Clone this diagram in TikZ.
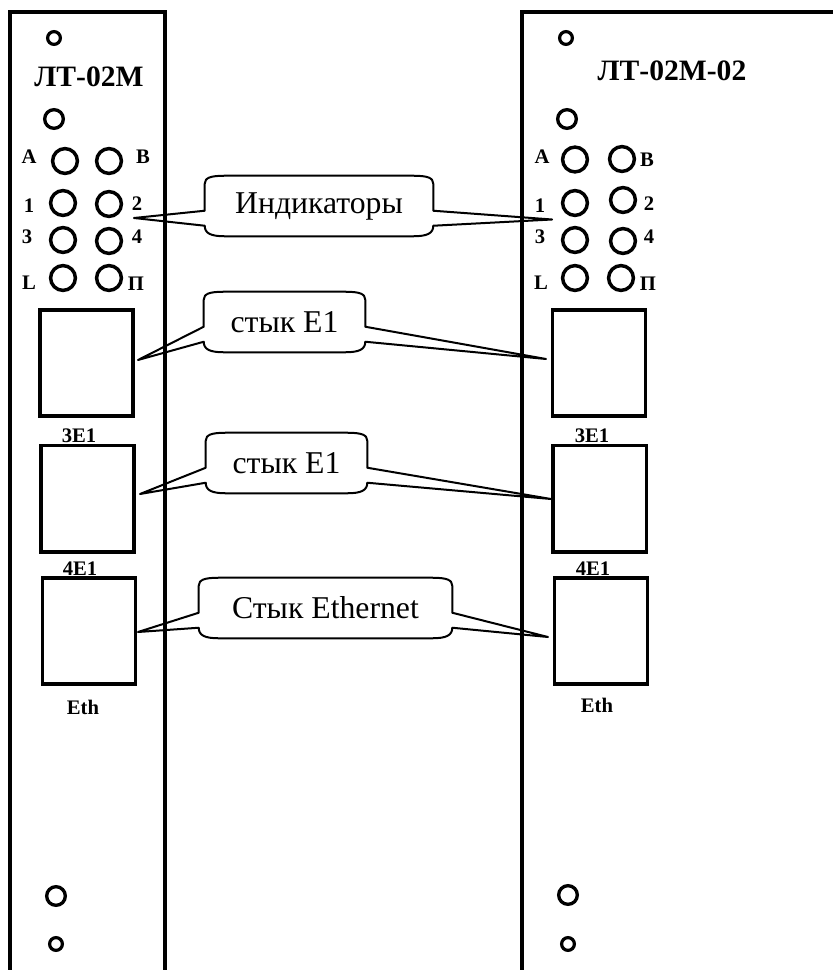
\documentclass[tikz,border=0pt]{standalone}
\usepackage{fontspec}
\setmainfont{Liberation Serif}
\usetikzlibrary{calc}

% callout outline round an empty node: name, left tip, right tip
\newcommand{\calloutline}[3]{
  \draw[callout]
    ($(#1.north west)+(0,8)$) .. controls ($(#1.north west)+(0,2)$) and ($(#1.north west)+(6,0)$) .. ($(#1.north west)+(20,0)$)
    -- ($(#1.north east)+(-20,0)$) .. controls ($(#1.north east)+(-6,0)$) and ($(#1.north east)+(0,2)$) .. ($(#1.north east)+(0,8)$)
    -- ($(#1.north east)+(0,35)$) -- (#3) -- ($(#1.north east)+(0,50)$)
    .. controls ($(#1.south east)+(0,-3)$) and ($(#1.south east)+(-6,0)$) .. ($(#1.south east)+(-20,0)$)
    -- ($(#1.south west)+(20,0)$) .. controls ($(#1.south west)+(6,0)$) and ($(#1.south west)+(0,-3)$) .. ($(#1.north west)+(0,50)$)
    -- (#2) -- ($(#1.north west)+(0,35)$) -- cycle;
}

\begin{document}
\begin{tikzpicture}[
  x=0.75pt, y=-0.75pt,
  font=\fontsize{15.5pt}{17pt}\selectfont\bfseries,
  panel/.style={line width=3pt, line cap=butt, line join=miter},
  callout/.style={line width=1.5pt, line join=round},
  calloutbody/.style={inner sep=0pt, minimum height=45pt, font=\fontsize{23.8pt}{26pt}\selectfont},
  lamp/.style={circle, draw, line width=2.6pt, inner sep=0pt, minimum size=18.6pt},
  hole/.style={circle, draw, line width=2.5pt, inner sep=0pt, minimum size=14pt},
  screw/.style={circle, draw, line width=2.4pt, inner sep=0pt, minimum size=9.6pt},
  socket/.style={draw, line width=2.7pt, inner sep=0pt, minimum width=70pt, minimum height=79.8pt},
  title/.style={font=\fontsize{22.2pt}{25pt}\selectfont\bfseries}
]
\useasboundingbox (0,0) rectangle (833,970);

% panels
\coordinate (leftbl) at (9.5,970);
\coordinate (lefttl) at (9.5,12);
\coordinate (lefttr) at (165,12);
\coordinate (leftbr) at (165,970);
\coordinate (rightbl) at (521.7,970);
\coordinate (righttl) at (521.7,12);
\coordinate (righttr) at (833,12);
\draw[panel] (leftbl) -- (lefttl) -- (lefttr) -- (leftbr);
\draw[panel] (rightbl) -- (righttl) -- (righttr);

\node[title] (ltm) at (89,77) {ЛТ-02М};
\node[title] (ltmz) at (672,71) {ЛТ-02М-02};

% left panel
\node[screw] (ls1) at (54,38) {};
\node[hole] (ls2) at (54,119) {};
\node[lamp] (la) at (65,161) {};
\node[lamp] (lb) at (109,161) {};
\node[lamp] (l1) at (63,203) {};
\node[lamp] (l2) at (109,204) {};
\node[lamp] (l3) at (63,240) {};
\node[lamp] (l4) at (109,241) {};
\node[lamp] (ll) at (63,278) {};
\node[lamp] (lp) at (109,278) {};
\node[hole] (ls3) at (56,896) {};
\node[screw] (ls4) at (56,944) {};

\node (lta) at (29,157) {A};
\node (ltb) at (143,157) {B};
\node (lt1) at (29,206) {1};
\node (lt2) at (137,204) {2};
\node (lt3) at (27,237) {3};
\node (lt4) at (137,237) {4};
\node (ltl) at (29,283) {L};
\node (ltp) at (136,284) {П};

\node (lte) at (79,436) {3E1};
\node (ltf) at (80,569) {4E1};
\node (lth) at (83,707) {Eth};
\node[socket] (lsa) at (86.5,363) {};
\node[socket] (lsb) at (87.5,498.5) {};
\node[socket] (lsc) at (89,631) {};

% right panel
\node[screw] (rs1) at (566,38) {};
\node[hole] (rs2) at (567,119) {};
\node[lamp] (ra) at (575,159.5) {};
\node[lamp] (rb) at (622,159) {};
\node[lamp] (r1) at (575,203) {};
\node[lamp] (r2) at (623,200) {};
\node[lamp] (r3) at (575,240) {};
\node[lamp] (r4) at (623,241) {};
\node[lamp] (rl) at (575,278) {};
\node[lamp] (rp) at (621,278) {};
\node[hole] (rs3) at (568,895) {};
\node[screw] (rs4) at (568,944) {};

\node (rta) at (542,157) {A};
\node (rtb) at (647,160) {B};
\node (rt1) at (540,206) {1};
\node (rt2) at (649,204) {2};
\node (rt3) at (540,237) {3};
\node (rt4) at (649,237) {4};
\node (rtl) at (541,283) {L};
\node (rtp) at (648,284) {П};

\node (rte) at (592,436) {3E1};
\node (rtf) at (593,569) {4E1};
\node (rth) at (597,705) {Eth};
\node[socket] (rsa) at (599,363) {};
\node[socket] (rsb) at (599.7,498.5) {};
\node[socket] (rsc) at (601,631) {};

% callouts
\node[calloutbody, minimum width=171pt] (ind) at (319,206) {Индикаторы};
\node[calloutbody, minimum width=120.75pt] (sta) at (284.5,322) {стык E1};
\node[calloutbody, minimum width=120.75pt] (stb) at (286.5,463) {стык E1};
\node[calloutbody, minimum width=189.75pt] (eth) at (325.5,608) {Стык Ethernet};

\coordinate (indl) at (134,218);
\coordinate (indr) at (552,219.5);
\coordinate (stal) at (138,360);
\coordinate (star) at (546,359);
\coordinate (stbl) at (140,494);
\coordinate (stbr) at (551,499);
\coordinate (ethl) at (138,632);
\coordinate (ethr) at (548,637);

\calloutline{ind}{indl}{indr}
\calloutline{sta}{stal}{star}
\calloutline{stb}{stbl}{stbr}
\calloutline{eth}{ethl}{ethr}
\end{tikzpicture}
\end{document}
